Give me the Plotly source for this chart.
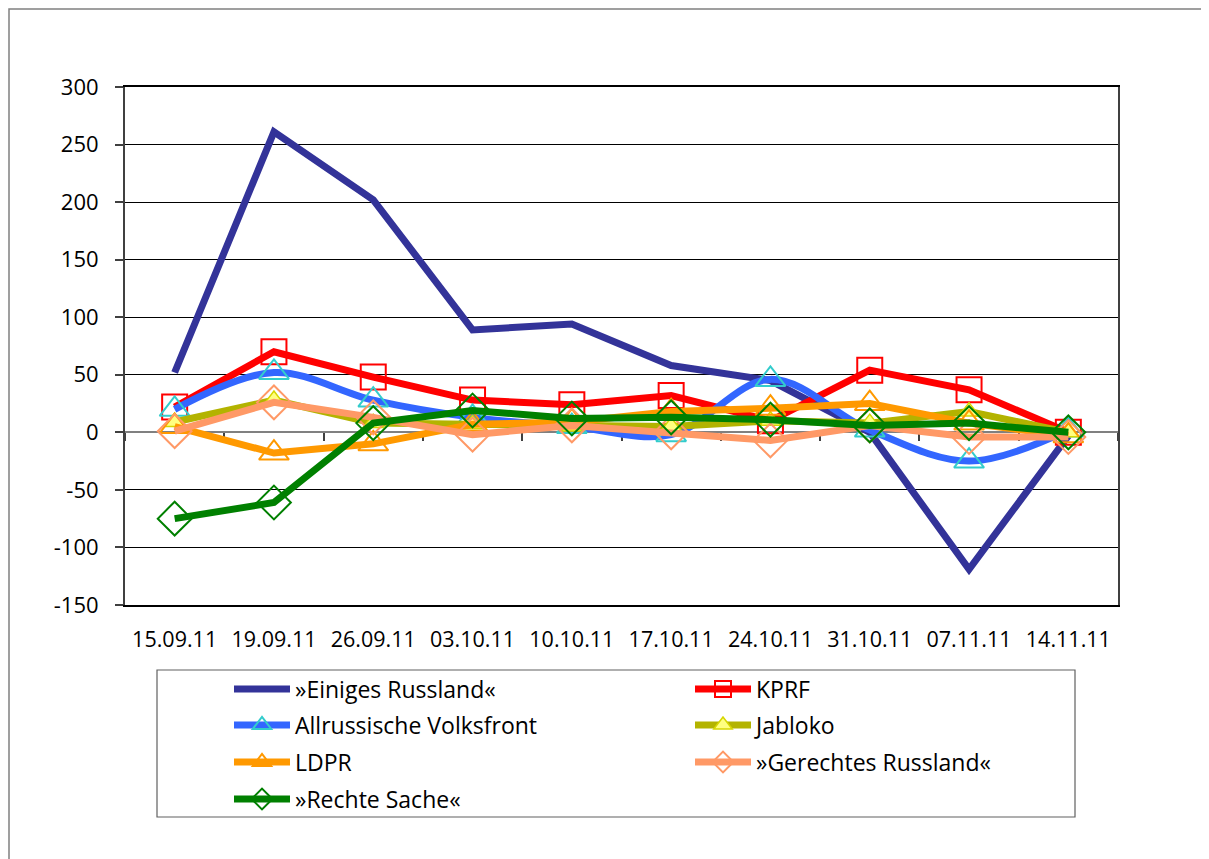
import plotly.graph_objects as go

categories = ["15.09.11", "19.09.11", "26.09.11", "03.10.11", "10.10.11",
              "17.10.11", "24.10.11", "31.10.11", "07.11.11", "14.11.11"]

einiges_russland = [52, 261, 202, 89, 94, 58, 45, 0, -119, -3]
kprf = [22, 70, 48, 28, 24, 32, 10, 54, 37, 0]
allrussische = [20, 52, 28, 13, 5, -2, 46, 2, -25, 2]
jabloko = [9, 28, 8, 7, 5, 5, 10, 8, 18, 0]
ldpr = [5, -18, -10, 7, 9, 18, 21, 25, 8, -3]
gerechtes = [1, 26, 13, -2, 6, 0, -7, 6, -4, -4]
rechte_sache = [-75, -61, 8, 19, 12, 13, 11, 6, 8, 0]

y_ticks = [-150, -100, -50, 0, 50, 100, 150, 200, 250, 300]
y_ticktext = ["-150", "-100", "-50", "0", "50", "100", "150", "200", "250", "300"]

# page body margin offset (8px) compensation
OFF = 8
W, H = 1209 - OFF, 859 - OFF
PL, PR, PT, PB = 125, 1118, 87, 605  # plot area in screen pixels
L, T = PL - OFF, PT - OFF
R = 1209 - PR
B = 859 - PB
pw, ph = PR - PL, PB - PT

def px_x(x):
    return (x - PL) / pw

def px_y(y):
    return (PB - y) / ph

FONT = "Open Sans"
LW = 7

fig = go.Figure()

def add(name, vals, color, legend, marker=None, shape="linear", xaxis="x"):
    kw = dict(x=categories, y=vals, name=name, legend=legend, xaxis=xaxis,
              line=dict(color=color, width=LW, shape=shape),
              hoverinfo="skip")
    if marker is None:
        kw["mode"] = "lines"
    else:
        kw["mode"] = "lines+markers"
        kw["marker"] = marker
    fig.add_trace(go.Scatter(**kw))

add("»Einiges Russland«", einiges_russland, "#333399", "legend")
add("KPRF", kprf, "#FF0000", "legend",
    marker=dict(symbol="square-open", size=25, color="#FF0000",
                line=dict(width=2, color="#FF0000")))
add("Allrussische Volksfront", allrussische, "#3366FF", "legend2",
    marker=dict(symbol="triangle-up-open", size=26, color="#33CCCC",
                line=dict(width=2, color="#33CCCC")), shape="spline")
add("Jabloko", jabloko, "#B3B300", "legend2",
    marker=dict(symbol="triangle-up", size=18, color="#FFFF80",
                line=dict(width=1.5, color="#D6D600")))
add("LDPR", ldpr, "#FF9900", "legend3",
    marker=dict(symbol="triangle-up-open", size=26, color="#FF9900",
                line=dict(width=2, color="#FF9900")))
add("»Gerechtes Russland«", gerechtes, "#FF9966", "legend3",
    marker=dict(symbol="diamond-open", size=26, color="#FF9966",
                line=dict(width=2, color="#FF9966")))
add("»Rechte Sache«", rechte_sache, "#008000", "legend4",
    marker=dict(symbol="diamond-open", size=26, color="#008000",
                line=dict(width=2, color="#008000")), xaxis="x2")

rows_y = [689, 725, 762, 799]
legend_common = dict(orientation="h", xanchor="left", yanchor="middle",
                     x=px_x(229), entrywidth=390, entrywidthmode="pixels",
                     itemwidth=56, bgcolor="rgba(0,0,0,0)", borderwidth=0,
                     font=dict(family=FONT, size=23, color="#000000"),
                     itemclick=False, itemdoubleclick=False)

xcommon = dict(type="category", categoryorder="array", categoryarray=categories,
               range=[-0.5, 9.5], fixedrange=True)

fig.update_layout(
    width=W, height=H,
    margin=dict(l=L, r=R, t=T, b=B, autoexpand=False),
    paper_bgcolor="white", plot_bgcolor="white",
    font=dict(family=FONT, size=21, color="#000000"),
    showlegend=True,
    legend=dict(legend_common, y=px_y(rows_y[0])),
    legend2=dict(legend_common, y=px_y(rows_y[1])),
    legend3=dict(legend_common, y=px_y(rows_y[2])),
    legend4=dict(legend_common, y=px_y(rows_y[3])),
    xaxis=dict(xcommon, showgrid=False, zeroline=False, showline=True,
               linecolor="#000000", linewidth=1.5, mirror=True,
               ticks="", ticklabelstandoff=14, layer="below traces",
               tickfont=dict(family=FONT, size=21.5, color="#000000")),
    xaxis2=dict(xcommon, overlaying="x", anchor="free", position=1/3,
                showgrid=False, zeroline=False, showline=True,
                linecolor="#808080", linewidth=2, ticks="outside",
                tickson="boundaries", ticklen=8, tickwidth=1.5,
                tickcolor="#404040", showticklabels=False,
                layer="below traces"),
    yaxis=dict(range=[-150, 300], tickvals=y_ticks, ticktext=y_ticktext,
               showgrid=True, gridcolor="#000000", gridwidth=1, zeroline=False,
               showline=True, linecolor="#404040", linewidth=2, mirror=True,
               ticks="outside", ticklen=8, tickwidth=1.5, tickcolor="#404040",
               ticklabelstandoff=12, layer="below traces", fixedrange=True,
               tickfont=dict(family=FONT, size=22, color="#000000")),
    shapes=[
        dict(type="rect", xref="paper", yref="paper",
             x0=px_x(9), x1=px_x(1216), y0=px_y(870), y1=px_y(9),
             line=dict(color="#808080", width=1.5), layer="below"),
        dict(type="rect", xref="paper", yref="paper",
             x0=px_x(157), x1=px_x(1075), y0=px_y(817), y1=px_y(670),
             line=dict(color="#606060", width=1.2), layer="below"),
    ],
)

fig.write_html("out.html")
